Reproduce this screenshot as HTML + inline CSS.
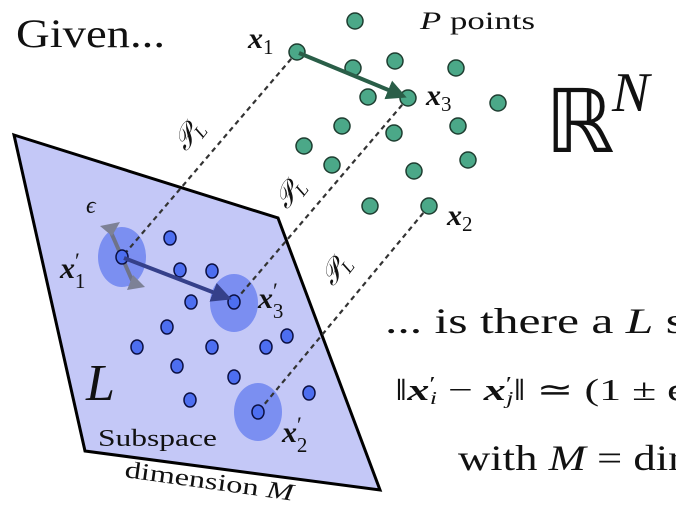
<!DOCTYPE html>
<html><head><meta charset="utf-8"><style>
html,body{margin:0;padding:0;background:#fff;width:676px;height:526px;overflow:hidden}
text{font-family:"Liberation Serif",serif;fill:#111}
</style></head><body>
<svg width="676" height="526" viewBox="0 0 676 526" xmlns="http://www.w3.org/2000/svg">
<defs>
<marker id="ag" viewBox="0 0 10 10" refX="8" refY="5" markerWidth="5" markerHeight="5" orient="auto"><path d="M0,0 L10,5 L0,10 z" fill="#2a5e48"/></marker>
<marker id="ab" viewBox="0 0 10 10" refX="8" refY="5" markerWidth="5" markerHeight="5" orient="auto"><path d="M0,0 L10,5 L0,10 z" fill="#35408a"/></marker>
</defs>
<polygon points="14,135 278,218 380,490 85,451" fill="#c4c8f7" stroke="#000" stroke-width="3" stroke-linejoin="miter"/>
<g fill="#6f85f0" opacity="0.85">
<ellipse cx="122" cy="257" rx="24" ry="30"/>
<ellipse cx="234" cy="303" rx="24" ry="29"/>
<ellipse cx="258" cy="412" rx="24" ry="29"/>
</g>
<g stroke="#333" stroke-width="2.2" stroke-dasharray="5,4" fill="none">
<line x1="297" y1="52" x2="122" y2="257"/>
<line x1="408" y1="98" x2="234" y2="302"/>
<line x1="429" y1="206" x2="258" y2="412"/>
</g>
<g fill="#4ba888" stroke="#1e3d30" stroke-width="1.5">
<circle cx="355" cy="21" r="8"/><circle cx="297" cy="52" r="8"/><circle cx="353" cy="68" r="8"/><circle cx="395" cy="61" r="8"/><circle cx="456" cy="68" r="8"/><circle cx="368" cy="97" r="8"/><circle cx="408" cy="98" r="8"/><circle cx="498" cy="103" r="8"/><circle cx="342" cy="126" r="8"/><circle cx="394" cy="133" r="8"/><circle cx="458" cy="126" r="8"/><circle cx="304" cy="146" r="8"/><circle cx="332" cy="165" r="8"/><circle cx="414" cy="171" r="8"/><circle cx="468" cy="160" r="8"/><circle cx="370" cy="206" r="8"/><circle cx="429" cy="206" r="8"/>
</g>
<line x1="299" y1="53" x2="403" y2="96" stroke="#2a5e48" stroke-width="4" marker-end="url(#ag)"/>
<g stroke="#6f7388" stroke-width="4" fill="#7d8196">
<line x1="110" y1="230" x2="135" y2="287"/>
<polygon points="100,226 120,222 112,236" stroke="none"/>
<polygon points="127,290 145,287 133,275" stroke="none"/>
</g>
<g fill="#4d6ef0" stroke="#0b0f40" stroke-width="1.5">
<ellipse cx="170" cy="238" rx="6" ry="7"/><ellipse cx="180" cy="270" rx="6" ry="7"/><ellipse cx="212" cy="271" rx="6" ry="7"/><ellipse cx="191" cy="302" rx="6" ry="7"/><ellipse cx="167" cy="327" rx="6" ry="7"/><ellipse cx="287" cy="336" rx="6" ry="7"/><ellipse cx="137" cy="347" rx="6" ry="7"/><ellipse cx="212" cy="347" rx="6" ry="7"/><ellipse cx="266" cy="347" rx="6" ry="7"/><ellipse cx="177" cy="366" rx="6" ry="7"/><ellipse cx="234" cy="377" rx="6" ry="7"/><ellipse cx="190" cy="400" rx="6" ry="7"/><ellipse cx="309" cy="393" rx="6" ry="7"/>
<ellipse cx="122" cy="257" rx="6" ry="7"/><ellipse cx="234" cy="302" rx="6" ry="7"/><ellipse cx="258" cy="412" rx="6" ry="7"/>
</g>
<line x1="124" y1="258" x2="228" y2="298" stroke="#35408a" stroke-width="4" marker-end="url(#ab)"/>
<text x="16" y="47" font-size="40" textLength="149" lengthAdjust="spacingAndGlyphs">Given...</text>
<text x="420" y="29" font-size="25" textLength="115" lengthAdjust="spacingAndGlyphs"><tspan font-style="italic">P</tspan> points</text>
<text x="248" y="48" font-size="30" font-weight="bold" font-style="italic">x<tspan font-size="21" font-weight="normal" font-style="normal" dy="6">1</tspan></text>
<text x="426" y="105" font-size="30" font-weight="bold" font-style="italic">x<tspan font-size="21" font-weight="normal" font-style="normal" dy="6">3</tspan></text>
<text x="447" y="225" font-size="30" font-weight="bold" font-style="italic">x<tspan font-size="21" font-weight="normal" font-style="normal" dy="6">2</tspan></text>
<text x="60" y="278" font-size="30" font-weight="bold" font-style="italic">x<tspan font-size="22" font-weight="normal" font-style="normal" dy="-10">′</tspan><tspan font-size="21" font-weight="normal" font-style="normal" dx="-5" dy="20">1</tspan></text>
<text x="258" y="308" font-size="30" font-weight="bold" font-style="italic">x<tspan font-size="22" font-weight="normal" font-style="normal" dy="-10">′</tspan><tspan font-size="21" font-weight="normal" font-style="normal" dx="-5" dy="20">3</tspan></text>
<text x="282" y="442" font-size="30" font-weight="bold" font-style="italic">x<tspan font-size="22" font-weight="normal" font-style="normal" dy="-10">′</tspan><tspan font-size="21" font-weight="normal" font-style="normal" dx="-5" dy="20">2</tspan></text>
<text x="86" y="213" font-size="24" font-style="italic">ϵ</text>
<text x="86" y="400" font-size="52" font-style="italic">L</text>
<text x="98" y="446" font-size="24" textLength="119" lengthAdjust="spacingAndGlyphs">Subspace</text>
<text transform="translate(124,477) rotate(8)" font-size="24" textLength="170" lengthAdjust="spacingAndGlyphs">dimension <tspan font-style="italic">M</tspan></text>
<text transform="translate(186,152) rotate(-52)" font-size="28" font-style="italic">𝒫<tspan font-size="18" dy="5">L</tspan></text>
<text transform="translate(287,210) rotate(-52)" font-size="28" font-style="italic">𝒫<tspan font-size="18" dy="5">L</tspan></text>
<text transform="translate(333,287) rotate(-52)" font-size="28" font-style="italic">𝒫<tspan font-size="18" dy="5">L</tspan></text>
<text x="545" y="152" font-size="88" font-family="DejaVu Serif">ℝ</text>
<text x="612" y="111" font-size="56" font-style="italic">N</text>
<text x="385" y="333" font-size="36" textLength="300" lengthAdjust="spacingAndGlyphs">... is there a <tspan font-style="italic">L</tspan> s</text>
<text x="395" y="400" font-size="31" textLength="290" lengthAdjust="spacingAndGlyphs">‖<tspan font-weight="bold" font-style="italic">x</tspan><tspan font-size="20" dy="-10">′</tspan><tspan font-size="18" font-style="italic" dx="-4" dy="14">i</tspan><tspan dy="-4"> − </tspan><tspan font-weight="bold" font-style="italic">x</tspan><tspan font-size="20" dy="-10">′</tspan><tspan font-size="18" font-style="italic" dx="-4" dy="14">j</tspan><tspan dy="-4">‖ ≃ (1 ± ϵ</tspan></text>
<text x="458" y="470" font-size="36" textLength="225" lengthAdjust="spacingAndGlyphs">with <tspan font-style="italic">M</tspan> = dir</text>
</svg>
</body></html>
